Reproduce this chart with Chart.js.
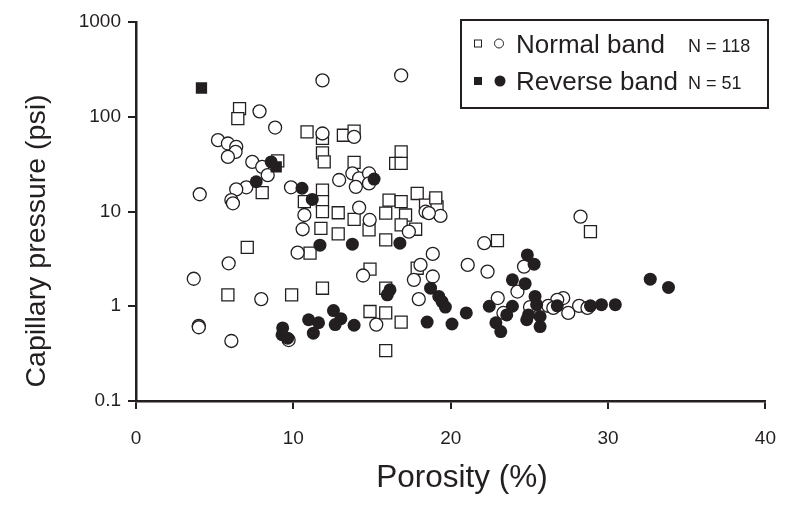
<!DOCTYPE html>
<html>
<head>
<meta charset="utf-8">
<script src="https://cdn.jsdelivr.net/npm/chart.js@4.4.0/dist/chart.umd.min.js"></script>
<style>
    html, body { margin: 0; padding: 0; background: #fff; }
</style>
</head>
<body>
<canvas id="chart" width="794" height="518"></canvas>
<script>
// axis ticks
const xTickValues = [0, 10, 20, 30, 40];
const yTickValues = [0.1, 1, 10, 100, 1000];
const yTickLabels = ["0.1", "1", "10", "100", "1000"];

// Normal band - open squares
const normalSquareX = [6.58, 6.47, 8.02, 9.01, 7.07, 5.84, 9.89, 11.06, 10.70, 11.85, 11.85, 11.85, 11.75, 10.87, 11.85, 13.18, 13.86, 11.85, 11.96, 13.86, 16.85, 16.50, 16.85, 12.85, 12.85, 13.86, 14.81, 15.87, 15.87, 16.08, 16.85, 17.13, 16.85, 17.77, 17.87, 19.03, 18.40, 19.13, 19.05, 14.87, 11.85, 15.87, 17.87, 14.87, 15.87, 16.85, 15.87, 22.97, 28.88];
const normalSquareY = [122, 95.7, 15.8, 34.2, 4.18, 1.32, 1.32, 3.63, 12.7, 16.8, 12.7, 9.95, 6.65, 69.2, 59, 63.8, 70.4, 41.6, 33.4, 33, 42.6, 32.2, 32.2, 9.7, 5.8, 8.27, 6.39, 9.6, 5.01, 13.2, 12.7, 9.18, 7.21, 6.5, 15.5, 12.7, 11.7, 11.2, 13.9, 2.46, 1.55, 1.55, 2.52, 0.88, 0.85, 0.68, 0.34, 4.93, 6.13];

// Normal band - open circles
const normalCircleX = [11.85, 16.85, 7.85, 8.84, 5.21, 5.84, 6.37, 6.33, 5.84, 7.39, 8.02, 8.37, 7.01, 6.37, 4.05, 6.06, 6.16, 9.85, 10.70, 10.59, 11.85, 13.86, 12.91, 13.75, 14.18, 13.97, 14.81, 14.81, 14.18, 14.85, 17.34, 18.40, 19.35, 18.61, 10.27, 5.89, 3.67, 7.96, 3.99, 3.99, 6.06, 9.70, 14.43, 15.27, 18.08, 17.66, 18.86, 17.97, 18.86, 28.25, 22.13, 21.08, 22.34, 24.66, 24.24, 22.99, 27.15, 26.77, 23.35, 25.04, 26.20, 26.52, 27.47, 28.16, 28.69];
const normalCircleY = [242, 273, 114, 76.9, 56.6, 52.2, 48.1, 42.6, 37.7, 33.4, 29.6, 24.2, 18, 17.1, 15.2, 13.2, 12.2, 18, 9.18, 6.5, 66.6, 61.3, 21.5, 25.2, 22.4, 18.2, 25.2, 19.8, 11, 8.14, 6.13, 9.95, 8.97, 9.6, 3.68, 2.84, 1.95, 1.19, 0.62, 0.60, 0.43, 0.44, 2.11, 0.64, 2.73, 1.90, 2.06, 1.19, 3.57, 8.82, 4.63, 2.73, 2.32, 2.62, 1.43, 1.22, 1.22, 1.17, 0.85, 0.98, 1.01, 0.96, 0.85, 1.01, 0.96];

// Reverse band - filled squares
const reverseSquareX = [4.16, 8.91];
const reverseSquareY = [201, 29.6];

// Reverse band - filled circles
const reverseCircleX = [8.59, 7.64, 10.55, 11.20, 11.69, 13.75, 16.77, 15.13, 9.32, 9.28, 9.64, 10.97, 11.60, 11.27, 12.55, 13.02, 12.66, 13.86, 15.97, 16.14, 18.72, 19.24, 19.45, 19.66, 18.50, 20.08, 20.99, 22.45, 22.87, 23.18, 23.92, 23.56, 23.92, 24.73, 24.87, 25.30, 25.36, 25.46, 24.94, 25.68, 24.83, 25.68, 26.77, 28.88, 29.58, 30.46, 32.68, 33.84];
const reverseCircleY = [33.4, 20.6, 17.6, 13.4, 4.41, 4.52, 4.63, 22, 0.59, 0.50, 0.46, 0.72, 0.67, 0.52, 0.90, 0.74, 0.64, 0.63, 1.32, 1.49, 1.55, 1.27, 1.12, 0.98, 0.68, 0.65, 0.85, 1.0, 0.67, 0.54, 1.0, 0.81, 1.90, 1.73, 3.48, 2.78, 1.27, 1.04, 0.81, 0.78, 0.72, 0.61, 1.01, 1.01, 1.04, 1.04, 1.93, 1.58];

const ink = "#231f20";
const sans = "'Liberation Sans', Arial, sans-serif";
const xTitle = "Porosity (%)";
const yTitle = "Capillary pressure (psi)";

const toPoints = (xs, ys) => xs.map((x, i) => ({ x, y: ys[i] }));

// legend box + axis titles drawn on the canvas
const bandLegend = {
    id: "bandLegend",
    afterDraw(chart) {
        const ctx = chart.ctx;
        ctx.save();
        ctx.strokeStyle = ink;
        ctx.fillStyle = ink;
        ctx.lineWidth = 2;
        ctx.strokeRect(461, 20, 307, 88);

        // row 1: open markers
        ctx.lineWidth = 1;
        ctx.fillStyle = "#fff";
        ctx.fillRect(474.5, 40, 7, 7);
        ctx.strokeRect(474.5, 40, 7, 7);
        ctx.beginPath();
        ctx.arc(499, 43.5, 4.5, 0, Math.PI * 2);
        ctx.fill();
        ctx.stroke();

        // row 2: filled markers
        ctx.fillStyle = ink;
        ctx.fillRect(474, 77, 8, 8);
        ctx.beginPath();
        ctx.arc(500, 81, 5.5, 0, Math.PI * 2);
        ctx.fill();

        ctx.textBaseline = "alphabetic";
        ctx.textAlign = "left";
        ctx.font = "26px " + sans;
        ctx.fillText("Normal band", 516, 52.5);
        ctx.fillText("Reverse band", 516, 89.5);
        ctx.font = "18px " + sans;
        ctx.fillText("N = 118", 688, 52);
        ctx.fillText("N = 51", 688, 89);

        // x title, a little right of the plot centre like the original
        ctx.textAlign = "center";
        ctx.textBaseline = "middle";
        ctx.font = "31.5px " + sans;
        ctx.fillText(xTitle, 462, 478);

        // y title, a bit below the plot centre
        ctx.translate(37, 241);
        ctx.rotate(-Math.PI / 2);
        ctx.font = "28.5px " + sans;
        ctx.fillText(yTitle, 0, 0);
        ctx.restore();
    },
};

const chart = new Chart(document.getElementById("chart").getContext("2d"), {
    type: "scatter",
    data: {
        datasets: [
            {
                label: "Reverse band",
                data: toPoints(reverseSquareX, reverseSquareY),
                pointStyle: "rect",
                pointRadius: 8,
                backgroundColor: ink,
                borderColor: ink,
                borderWidth: 0,
            },
            {
                label: "Reverse band",
                data: toPoints(reverseCircleX, reverseCircleY),
                pointStyle: "circle",
                pointRadius: 6.5,
                backgroundColor: ink,
                borderColor: ink,
                borderWidth: 0,
            },
            {
                label: "Normal band",
                data: toPoints(normalCircleX, normalCircleY),
                pointStyle: "circle",
                pointRadius: 6.5,
                backgroundColor: "#fff",
                borderColor: ink,
                borderWidth: 1.3,
            },
            {
                label: "Normal band",
                data: toPoints(normalSquareX, normalSquareY),
                pointStyle: "rect",
                pointRadius: 8.5,
                backgroundColor: "#fff",
                borderColor: ink,
                borderWidth: 1.3,
            },
        ],
    },
    options: {
        responsive: false,
        animation: false,
        events: [],
        layout: { padding: { left: 0, right: 23, top: 22, bottom: 0 } },
        plugins: {
            legend: { display: false },
            tooltip: { enabled: false },
        },
        scales: {
            x: {
                type: "linear",
                min: 0,
                max: 40,
                afterBuildTicks(scale) {
                    scale.ticks = xTickValues.map((v) => ({ value: v }));
                },
                afterFit(scale) {
                    scale.height = 117;
                },
                ticks: {
                    color: ink,
                    font: { family: sans, size: 19 },
                    padding: 18,
                    maxRotation: 0,
                },
                grid: {
                    drawOnChartArea: false,
                    drawTicks: true,
                    tickLength: 8,
                    color: ink,
                    lineWidth: 2,
                },
                border: { display: true, color: ink, width: 2.5 },
            },
            y: {
                type: "logarithmic",
                min: 0.1,
                max: 1000,
                afterBuildTicks(scale) {
                    scale.ticks = yTickValues.map((v) => ({ value: v }));
                },
                afterFit(scale) {
                    scale.width = 136;
                },
                ticks: {
                    color: ink,
                    font: { family: sans, size: 19 },
                    padding: 7,
                    callback: (value, index) => yTickLabels[index],
                },
                grid: {
                    drawOnChartArea: false,
                    drawTicks: true,
                    tickLength: 8,
                    color: ink,
                    lineWidth: 2,
                },
                border: { display: true, color: ink, width: 2.5 },
            },
        },
    },
    plugins: [bandLegend],
});
</script>
</body>
</html>
